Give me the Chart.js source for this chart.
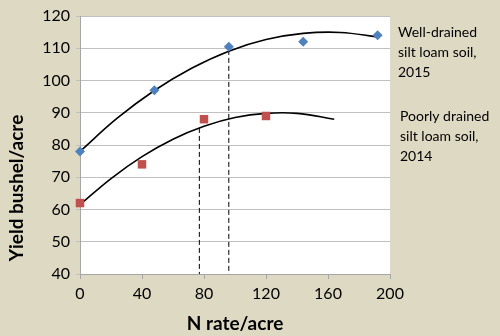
<!DOCTYPE html>
<html><head><meta charset="utf-8">
<script src="https://cdn.jsdelivr.net/npm/chart.js@4"></script>
<style>html,body{margin:0;padding:0;background:#DDD9C3;}#c{display:block;}</style>
</head><body>
<div style="width:500px;height:336px"><canvas id="c" width="500" height="336"></canvas></div>
<script>
// Measured points
const wellX = [0, 48, 96, 144, 192];
const wellY = [78, 97, 110.5, 112, 114];
const poorX = [0, 40, 80, 120];
const poorY = [62, 74, 88, 89];
// Trend curves
const wellCurveX = [0, 24, 48, 72, 96, 120, 144, 168, 192];
const wellCurveY = [78, 88.3, 96.9, 103.8, 109.1, 112.7, 114.6, 114.9, 113.5];
const poorCurveX = [0, 20, 40, 60, 80, 100, 120, 140, 164];
const poorCurveY = [61.5, 69.6, 76.4, 81.8, 85.8, 88.5, 89.8, 89.8, 88];
// Dashed drop lines
const dropWellX = [96, 96];
const dropWellY = [109.5, 40];
const dropPoorX = [77, 77];
const dropPoorY = [85.3, 40];
// Axis ticks
const xTicks = [0, 40, 80, 120, 160, 200];
const yTicks = [40, 50, 60, 70, 80, 90, 100, 110, 120];
const yTitle = 'Yield bushel/acre';
const xTitle = 'N rate/acre';
const labelWell = ['Well-drained', 'silt loam soil,', '2015'];
const labelPoor = ['Poorly drained', 'silt loam soil,', '2014'];

const zip = (xs, ys) => xs.map((x, i) => ({x: x, y: ys[i]}));
const FONT = 'Lato, "Open Sans", sans-serif';

const bgPlugin = {
  id: 'bg',
  beforeDraw(chart) {
    const {ctx, chartArea: a} = chart;
    ctx.save();
    ctx.fillStyle = '#DDD9C3';
    ctx.fillRect(0, 0, chart.width, chart.height);
    ctx.fillStyle = '#FFFFFF';
    ctx.fillRect(a.left, a.top, a.right - a.left, a.bottom - a.top);
    ctx.restore();
  },
  afterDraw(chart) {
    const {ctx, chartArea: a} = chart;
    ctx.save();
    ctx.fillStyle = '#000';
    ctx.font = 'bold 19px ' + FONT;
    ctx.textAlign = 'center';
    ctx.textBaseline = 'middle';
    ctx.fillText(xTitle, (a.left + a.right) / 2, 324);
    ctx.translate(17, 188);
    ctx.rotate(-Math.PI / 2);
    ctx.fillText(yTitle, 0, 0);
    ctx.restore();
    ctx.save();
    ctx.fillStyle = '#000';
    ctx.font = '14px ' + FONT;
    ctx.textAlign = 'left';
    ctx.textBaseline = 'middle';
    labelWell.forEach((t, i) => ctx.fillText(t, 398, 32 + i * 20));
    labelPoor.forEach((t, i) => ctx.fillText(t, 400, 116 + i * 20));
    ctx.restore();
  }
};

new Chart(document.getElementById('c'), {
  type: 'scatter',
  data: {
    datasets: [
      {data: zip(wellX, wellY), pointStyle: 'rectRot', pointRadius: 5, backgroundColor: '#4F81BD', borderColor: '#4F81BD', borderWidth: 0, clip: false, order: 0},
      {data: zip(poorX, poorY), pointStyle: 'rect', pointRadius: 6, backgroundColor: '#C0504D', borderColor: '#C0504D', borderWidth: 0, clip: false, order: 0},
      {data: zip(wellCurveX, wellCurveY), showLine: true, tension: 0.4, pointRadius: 0, borderColor: '#000', borderWidth: 1.6, order: 1},
      {data: zip(poorCurveX, poorCurveY), showLine: true, tension: 0.4, pointRadius: 0, borderColor: '#000', borderWidth: 1.6, order: 1},
      {data: zip(dropWellX, dropWellY), showLine: true, pointRadius: 0, borderColor: '#000', borderWidth: 1, borderDash: [5, 3], order: 2},
      {data: zip(dropPoorX, dropPoorY), showLine: true, pointRadius: 0, borderColor: '#000', borderWidth: 1, borderDash: [5, 3], order: 2}
    ]
  },
  options: {
    responsive: false,
    animation: false,
    events: [],
    layout: {padding: {left: 0, right: 110, top: 16, bottom: 0}},
    plugins: {legend: {display: false}, tooltip: {enabled: false}},
    scales: {
      x: {
        type: 'linear', min: 0, max: 200,
        afterBuildTicks(s) { s.ticks = xTicks.map(v => ({value: v})); },
        afterFit(s) { s.height = 62; },
        grid: {drawOnChartArea: false, drawTicks: true, tickLength: 5, color: '#A6A6A6'},
        border: {color: '#A6A6A6'},
        ticks: {color: '#000', font: {size: 16, family: FONT}, padding: 5}
      },
      y: {
        type: 'linear', min: 40, max: 120,
        afterBuildTicks(s) { s.ticks = yTicks.map(v => ({value: v})); },
        afterFit(s) { s.width = 80; },
        grid: {color: '#C0C0C0', tickLength: 4},
        border: {color: '#A6A6A6'},
        ticks: {color: '#000', font: {size: 16, family: FONT}, padding: 6}
      }
    }
  },
  plugins: [bgPlugin]
});
</script>
</body></html>
